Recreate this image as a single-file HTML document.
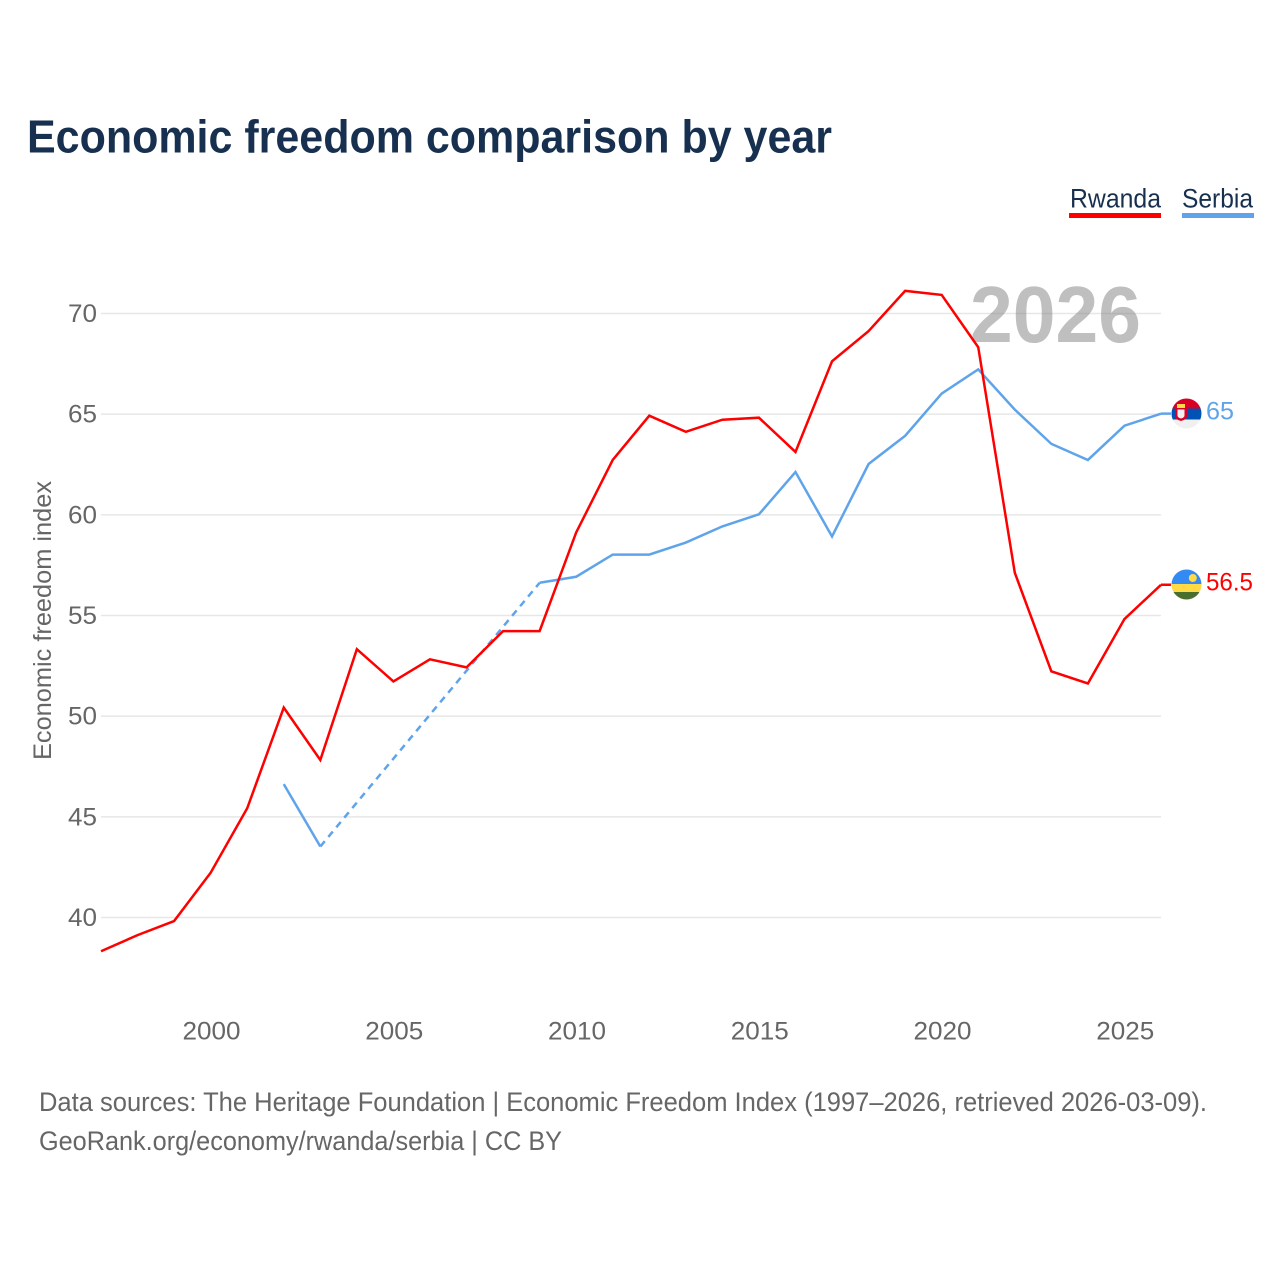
<!DOCTYPE html>
<html lang="en">
<head>
<meta charset="utf-8">
<title>Economic freedom comparison by year</title>
<style>
html,body{margin:0;padding:0;background:#fff;width:1280px;height:1280px;overflow:hidden}
svg{display:block}
text{font-family:"Liberation Sans",sans-serif}
</style>
</head>
<body>
<svg id="chart" xmlns="http://www.w3.org/2000/svg" width="1280" height="1280" viewBox="0 0 1280 1280">
  <rect x="0" y="0" width="1280" height="1280" fill="#ffffff"/>
  <text x="27" y="152.500" font-size="46" font-weight="700" fill="#18304f" textLength="805" lengthAdjust="spacingAndGlyphs">Economic freedom comparison by year</text>
  <g>
    <g>
      <text x="1070" y="207.500" font-size="27" fill="#18304f" textLength="91" lengthAdjust="spacingAndGlyphs">Rwanda</text>
      <rect x="1069" y="213" width="92" height="5" fill="#ff0000"/>
    </g>
    <g>
      <text x="1182" y="207.500" font-size="27" fill="#18304f" textLength="71" lengthAdjust="spacingAndGlyphs">Serbia</text>
      <rect x="1182" y="213" width="72" height="5" fill="#5fa4ea"/>
    </g>
  </g>
  <g id="grid"></g>
  <g id="yticks"></g>
  <g id="xticks"></g>
  <text transform="translate(51,620.500) rotate(-90)" text-anchor="middle" font-size="25" fill="#666666" textLength="279" lengthAdjust="spacingAndGlyphs">Economic freedom index</text>
  <text x="970" y="342" font-size="80" font-weight="700" fill="#808080" fill-opacity="0.5" textLength="171" lengthAdjust="spacingAndGlyphs">2026</text>
  <g id="series"></g>
  <g id="serbia-flag">
    <clipPath id="clip-serbia"><circle cx="1186.5" cy="413.5" r="15"/></clipPath>
    <g clip-path="url(#clip-serbia)">
      <rect x="1171" y="398" width="31" height="10.5" fill="#d80027"/>
      <rect x="1171" y="408.5" width="31" height="11" fill="#0052b4"/>
      <rect x="1171" y="419.5" width="31" height="10" fill="#f0f0f0"/>
      <path d="M1175 408h12v8.500q0 3-6 4.500q-6-1.500-6-4.500z" fill="#d80027"/>
      <rect x="1177" y="404" width="8" height="4" fill="#ffda44"/>
      <path d="M1177.500 409.500h7v6q0 2-3.500 3q-3.500-1-3.500-3z" fill="#f0f0f0"/>
    </g>
  </g>
  <g id="rwanda-flag">
    <clipPath id="clip-rwanda"><circle cx="1186.5" cy="584.5" r="15"/></clipPath>
    <g clip-path="url(#clip-rwanda)">
      <rect x="1171" y="569" width="31" height="15" fill="#338af3"/>
      <rect x="1171" y="584" width="31" height="8" fill="#ffda44"/>
      <rect x="1171" y="592" width="31" height="9" fill="#496e2d"/>
      <circle cx="1192.800" cy="578" r="4" fill="#ffda44"/>
    </g>
  </g>
  <text id="label-serbia" x="1206" y="419.500" font-size="25" fill="#5fa4ea" textLength="28" lengthAdjust="spacingAndGlyphs"></text>
  <text id="label-rwanda" x="1206" y="590.500" font-size="25" fill="#ff0000" textLength="47" lengthAdjust="spacingAndGlyphs"></text>
  <g>
    <text x="39" y="1111" font-size="27" fill="#666666" textLength="1168" lengthAdjust="spacingAndGlyphs">Data sources: The Heritage Foundation | Economic Freedom Index (1997–2026, retrieved 2026-03-09).</text>
    <text x="39" y="1150" font-size="27" fill="#666666" textLength="523" lengthAdjust="spacingAndGlyphs">GeoRank.org/economy/rwanda/serbia | CC BY</text>
  </g>
</svg>
<script>
const years = [1997,1998,1999,2000,2001,2002,2003,2004,2005,2006,2007,2008,2009,2010,2011,2012,2013,2014,2015,2016,2017,2018,2019,2020,2021,2022,2023,2024,2025,2026];
const rwandaValues = [38.3,39.1,39.8,42.2,45.4,50.4,47.8,53.3,51.7,52.8,52.4,54.2,54.2,59.1,62.7,64.9,64.1,64.7,64.8,63.1,67.6,69.1,71.1,70.9,68.3,57.1,52.2,51.6,54.8,56.5];
const serbiaValues = [null,null,null,null,null,46.6,43.5,null,null,null,null,null,56.6,56.9,58,58,58.6,59.4,60,62.1,58.9,62.5,63.9,66,67.2,65.2,63.5,62.7,64.4,65];
const yTickValues = [40,45,50,55,60,65,70];
const xTickValues = [2000,2005,2010,2015,2020,2025];

const NS = 'http://www.w3.org/2000/svg';
function xScale(year){ return 101 + (year - 1997) * (1161 - 101) / (2026 - 1997); }
function yScale(value){ return 917.5 - (value - 40) * (917.5 - 313.5) / 30; }
function make(tag, attrs, parent){
  const el = document.createElementNS(NS, tag);
  Object.keys(attrs).forEach(function(k){ el.setAttribute(k, attrs[k]); });
  parent.appendChild(el);
  return el;
}

const grid = document.getElementById('grid');
const yticks = document.getElementById('yticks');
const xticks = document.getElementById('xticks');
const series = document.getElementById('series');

yTickValues.forEach(function(v){
  const line = make('line', {x1:101, x2:1161, y1:yScale(v), y2:yScale(v), stroke:'#e7e7e7', 'stroke-width':1.5}, grid);
  
  
  const t = make('text', {x:97, y:yScale(v) + 8.5, 'text-anchor':'end', 'font-size':25, fill:'#666666', textLength:29, lengthAdjust:'spacingAndGlyphs'}, yticks);
  
  
  t.textContent = String(v);
});

xTickValues.forEach(function(y){
  const t = make('text', {x:xScale(y) + 0.8, y:1039.5, 'text-anchor':'middle', 'font-size':25, fill:'#666666', textLength:58, lengthAdjust:'spacingAndGlyphs'}, xticks);
  
  
  t.textContent = String(y);
});

function drawSeries(name, values, color){
  let solid = '';
  let dashed = '';
  let prev = -1;
  values.forEach(function(v, i){
    if (v === null) return;
    const pt = xScale(years[i]).toFixed(2) + ' ' + (yScale(v) - 0.5).toFixed(2);
    if (prev < 0) {
      solid += 'M' + pt;
    } else if (i === prev + 1) {
      solid += 'L' + pt;
    } else {
      dashed += 'M' + xScale(years[prev]).toFixed(2) + ' ' + (yScale(values[prev]) - 0.5).toFixed(2) + 'L' + pt;
      solid += 'M' + pt;
    }
    prev = i;
  });
  const lastX = xScale(years[prev]);
  const lastY = yScale(values[prev]) - 0.5;
  solid += 'M' + lastX.toFixed(2) + ' ' + lastY.toFixed(2) + 'L' + (lastX + 10).toFixed(2) + ' ' + lastY.toFixed(2);
  if (dashed) {
    const d = make('path', {d:dashed, fill:'none', stroke:color, 'stroke-width':2.5, 'stroke-dasharray':'7 5.5'}, series);
    
    
  }
  const s = make('path', {d:solid, fill:'none', stroke:color, 'stroke-width':2.5, 'stroke-linejoin':'miter'}, series);
  
  
}
drawSeries('serbia', serbiaValues, '#5fa4ea');
drawSeries('rwanda', rwandaValues, '#ff0000');

document.getElementById('label-serbia').textContent = String(serbiaValues[serbiaValues.length - 1]);
document.getElementById('label-rwanda').textContent = String(rwandaValues[rwandaValues.length - 1]);
</script>
</body>
</html>
